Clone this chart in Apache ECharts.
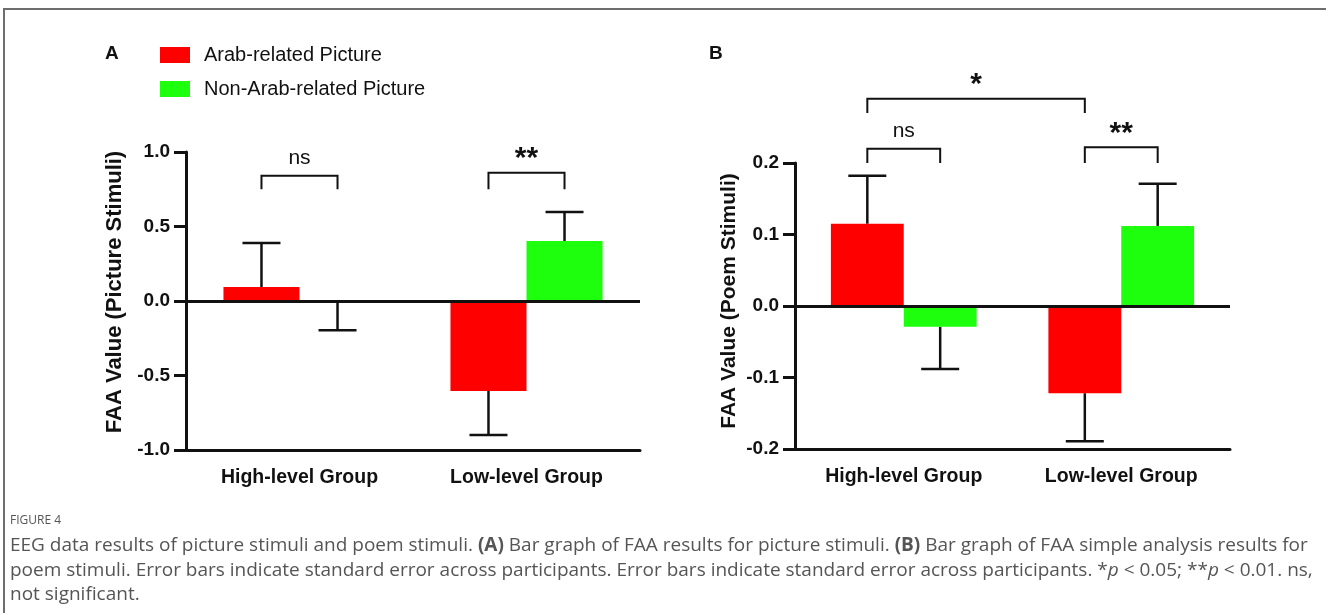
<!DOCTYPE html>
<html>
<head>
<meta charset="utf-8">
<script src="https://cdn.jsdelivr.net/npm/echarts@6/dist/echarts.min.js"></script>
<style>
  html, body { margin: 0; padding: 0; background: #fff; }
  #frame { position: absolute; left: 3px; top: 8px; right: -2px; bottom: -2px; border-left: 2px solid #6d6d6d; border-top: 2px solid #6d6d6d; }
  #chart { position: absolute; left: 0; top: 0; width: 1326px; height: 613px; }
</style>
</head>
<body>
<div id="frame"></div>
<div id="chart"></div>
<script>
const groups = ["High-level Group", "Low-level Group"];

// panel A: picture stimuli (mean, standard error)
const picArab = [0.094, -0.604];
const picArabSE = [0.295, 0.296];
const picNonArab = [-0.01, 0.403];
const picNonArabSE = [0.187, 0.195];

// panel B: poem stimuli
const poemArab = [0.115, -0.122];
const poemArabSE = [0.067, 0.067];
const poemNonArab = [-0.029, 0.112];
const poemNonArabSE = [0.059, 0.059];

const ticksA = [-1.0, -0.5, 0.0, 0.5, 1.0];
const ticksB = [-0.2, -0.1, 0.0, 0.1, 0.2];

// significance brackets: [cat1, side1, cat2, side2, yTop, yLeg, label]
const bracketsA = [
  [0, -1, 0, 1, 0.84, 0.75, "ns"],
  [1, -1, 1, 1, 0.86, 0.75, "**"]
];
const bracketsB = [
  [0, -1, 1, -1, 0.29, 0.27, "*"],
  [0, -1, 0, 1, 0.22, 0.20, "ns"],
  [1, -1, 1, 1, 0.222, 0.20, "**"]
];

const RED = "#ff0000";
const GREEN = "#1eff0e";
const CAT_GAP = 0.33;
const FONT = "Liberation Sans, Arial, sans-serif";

const chart = echarts.init(document.getElementById("chart"));

function barCenter(api, cat, side) {
  const band = api.size([1, 0])[0];
  const bw = band * (1 - CAT_GAP) / 2;
  return api.coord([cat, 0])[0] + side * bw / 2;
}

function errorSeries(idx, means, se, side) {
  return {
    type: "custom",
    xAxisIndex: idx,
    yAxisIndex: idx,
    silent: true,
    z: 1,
    data: means.map((m, i) => [i, m, m + (m < 0 ? -se[i] : se[i])]),
    renderItem: (params, api) => {
      const cat = api.value(0);
      const x = barCenter(api, cat, side);
      const y0 = api.coord([cat, api.value(1)])[1];
      const y1 = api.coord([cat, api.value(2)])[1];
      const st = { stroke: "#111", lineWidth: 2.5 };
      return {
        type: "group",
        children: [
          { type: "line", shape: { x1: x, y1: y0, x2: x, y2: y1 }, style: st },
          { type: "line", shape: { x1: x - 19, y1: y1, x2: x + 19, y2: y1 }, style: st }
        ]
      };
    }
  };
}

function bracketSeries(idx, list) {
  return {
    type: "custom",
    xAxisIndex: idx,
    yAxisIndex: idx,
    silent: true,
    clip: false,
    data: list.map(b => b.slice(0, 6)),
    renderItem: (params, api) => {
      const b = list[params.dataIndex];
      const xa = barCenter(api, b[0], b[1]);
      const xb = barCenter(api, b[2], b[3]);
      const yt = api.coord([0, b[4]])[1];
      const yl = api.coord([0, b[5]])[1];
      const st = { stroke: "#111", lineWidth: 2 };
      const isStar = b[6].indexOf("*") >= 0;
      return {
        type: "group",
        children: [
          { type: "polyline", shape: { points: [[xa, yl], [xa, yt], [xb, yt], [xb, yl]] }, style: Object.assign({ fill: null }, st) },
          {
            type: "text",
            style: {
              text: b[6], x: (xa + xb) / 2, y: isStar ? yt + 1 : yt - 7,
              align: "center", verticalAlign: "bottom",
              fontFamily: FONT, fontSize: isStar ? 30 : 21,
              fontWeight: isStar ? "bold" : "normal", fill: "#111"
            }
          }
        ]
      };
    }
  };
}

function barSeries(idx, name, values, color, withZero) {
  const s = {
    name: name,
    type: "bar",
    xAxisIndex: idx,
    yAxisIndex: idx,
    data: values,
    barGap: "0%",
    barCategoryGap: CAT_GAP * 100 + "%",
    itemStyle: { color: color },
    z: 2
  };
  if (withZero) {
    s.markLine = {
      silent: true,
      symbol: "none",
      label: { show: false },
      lineStyle: { color: "#111", width: 3, type: "solid" },
      data: [{ yAxis: 0 }],
      z: 5
    };
  }
  return s;
}

function yAxis(idx, ticks, name, gap, size, lift) {
  return {
    type: "value",
    gridIndex: idx,
    min: ticks[0],
    max: ticks[ticks.length - 1],
    interval: ticks[1] - ticks[0],
    name: name,
    nameLocation: "middle",
    nameGap: gap,
    nameTextStyle: { fontFamily: FONT, fontSize: size, fontWeight: "bold", color: "#111", padding: [0, 0, 0, lift] },
    axisLine: { show: true, lineStyle: { color: "#111", width: 3 } },
    axisTick: { show: true, length: 12, lineStyle: { color: "#111", width: 3 } },
    axisLabel: {
      margin: 16, fontFamily: FONT, fontSize: 19, fontWeight: "bold", color: "#111",
      formatter: v => v.toFixed(1)
    },
    splitLine: { show: false }
  };
}

function xAxis(idx) {
  return {
    type: "category",
    gridIndex: idx,
    data: groups,
    axisLine: { onZero: false, lineStyle: { color: "#111", width: 3 } },
    axisTick: { alignWithLabel: true, length: 11, lineStyle: { color: "#111", width: 3 } },
    axisLabel: { margin: 18, fontFamily: FONT, fontSize: 19.5, fontWeight: "bold", color: "#111" }
  };
}

const CAP_FONT = "Open Sans, sans-serif";
const captionStyle = { fontFamily: CAP_FONT, fontSize: 19, fill: "#555" };

chart.setOption({
  animation: false,
  legend: {
    data: ["Arab-related Picture", "Non-Arab-related Picture"],
    orient: "vertical",
    left: 155,
    top: 40,
    itemWidth: 30,
    itemHeight: 16,
    itemGap: 14,
    icon: "rect",
    selectedMode: false,
    textStyle: { fontFamily: FONT, fontSize: 20, color: "#111", padding: [0, 0, 0, 9] }
  },
  grid: [
    { left: 186, top: 152, width: 454, height: 298 },
    { left: 795, top: 163, width: 435, height: 286 }
  ],
  xAxis: [xAxis(0), xAxis(1)],
  yAxis: [
    yAxis(0, ticksA, "FAA Value (Picture Stimuli)", 60, 22, 18),
    yAxis(1, ticksB, "FAA Value (Poem Stimuli)", 55, 21, 10)
  ],
  series: [
    barSeries(0, "Arab-related Picture", picArab, RED, true),
    barSeries(0, "Non-Arab-related Picture", picNonArab, GREEN, false),
    barSeries(1, "Arab-related Picture", poemArab, RED, true),
    barSeries(1, "Non-Arab-related Picture", poemNonArab, GREEN, false),
    errorSeries(0, picArab, picArabSE, -1),
    errorSeries(0, picNonArab, picNonArabSE, 1),
    errorSeries(1, poemArab, poemArabSE, -1),
    errorSeries(1, poemNonArab, poemNonArabSE, 1),
    bracketSeries(0, bracketsA),
    bracketSeries(1, bracketsB)
  ],
  graphic: [
    { type: "text", left: 105, top: 44, style: { text: "A", fontFamily: FONT, fontSize: 19, fontWeight: "bold", fill: "#111" } },
    { type: "text", left: 709, top: 44, style: { text: "B", fontFamily: FONT, fontSize: 19, fontWeight: "bold", fill: "#111" } },
    { type: "text", left: 10, top: 515, style: { text: "FIGURE 4", fontFamily: CAP_FONT, fontSize: 12, fill: "#555" } },
    { type: "text", left: 10, top: 536, style: Object.assign({ text: "EEG data results of picture stimuli and poem stimuli. {b|(A)} Bar graph of FAA results for picture stimuli. {b|(B)} Bar graph of FAA simple analysis results for", rich: { b: { fontFamily: CAP_FONT, fontSize: 19, fontWeight: "bold", fill: "#555" } } }, captionStyle) },
    { type: "text", left: 10, top: 561, style: Object.assign({ text: "poem stimuli. Error bars indicate standard error across participants. Error bars indicate standard error across participants. *{i|p} < 0.05; **{i|p} < 0.01. ns,", rich: { i: { fontFamily: CAP_FONT, fontSize: 19, fontStyle: "italic", fill: "#555" } } }, captionStyle) },
    { type: "text", left: 10, top: 585, style: Object.assign({ text: "not significant." }, captionStyle) }
  ]
});
</script>
</body>
</html>
